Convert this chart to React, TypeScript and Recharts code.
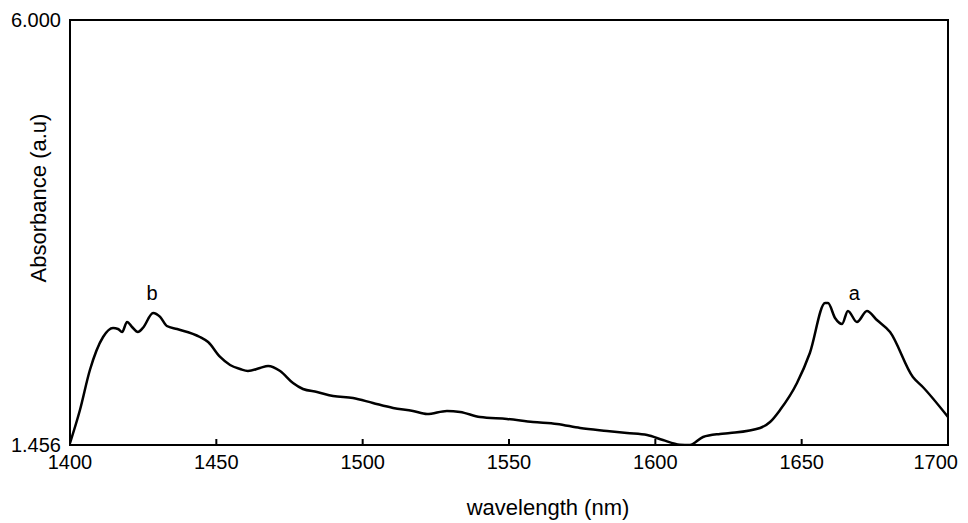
import { LineChart, Line, XAxis, YAxis, ReferenceDot, ReferenceArea } from 'recharts';

// wavelength (nm)
const wavelength = [
  1400.0, 1403.4, 1406.8, 1411.3, 1414.7, 1416.4, 1417.8, 1419.5, 1421.2, 1423.2,
  1424.9, 1428.4, 1430.8, 1433.1, 1436.6, 1444.4, 1447.2, 1451.3, 1454.7, 1458.1,
  1460.8, 1464.9, 1467.7, 1471.8, 1476.2, 1479.6, 1484.4, 1489.9, 1496.7, 1503.5,
  1510.4, 1517.2, 1522.0, 1528.8, 1533.3, 1540.1, 1549.3, 1558.2, 1566.4, 1574.3,
  1583.5, 1590.3, 1597.2, 1602.6, 1608.4, 1611.8, 1616.3, 1622.1, 1625.5, 1635.8,
  1639.2, 1642.6, 1648.4, 1652.8, 1658.0, 1659.0, 1661.4, 1663.8, 1665.8, 1668.9,
  1672.3, 1675.7, 1680.2, 1688.0, 1691.4, 1700.0,
];

const absorbance = [
  1.477, 1.83, 2.258, 2.611, 2.707, 2.696, 2.664, 2.771, 2.718, 2.664,
  2.707, 2.867, 2.825, 2.728, 2.696, 2.611, 2.557, 2.397, 2.311, 2.269,
  2.247, 2.279, 2.301, 2.247, 2.119, 2.055, 2.023, 1.98, 1.959, 1.905,
  1.852, 1.82, 1.787, 1.82, 1.809, 1.755, 1.734, 1.702, 1.681, 1.638,
  1.606, 1.584, 1.563, 1.509, 1.46, 1.456, 1.542, 1.574, 1.584, 1.638,
  1.702, 1.83, 2.119, 2.44, 2.974, 2.974, 2.814, 2.75, 2.889, 2.771,
  2.889, 2.792, 2.664, 2.183, 2.076, 1.755,
];

const xTicks = [1400, 1450, 1500, 1550, 1600, 1650, 1700];
const yTicks = [1.456, 6.0];

const peakLabels = [
  { x: 1428, y: 3.08, text: 'b' },
  { x: 1668, y: 3.08, text: 'a' },
];

const data = wavelength.map((w, i) => ({ w, a: absorbance[i] }));

const font = '"Liberation Sans", Arial, sans-serif';

// last label sits a bit inside the frame, like the original print
const XTick = (props: any) => {
  const { x, y, payload } = props;
  const last = payload.value === 1700;
  return (
    <text
      x={last ? x + 10 : x}
      y={y}
      dy="0.71em"
      textAnchor={last ? 'end' : 'middle'}
      fill="#000"
      fontSize={20}
      fontFamily={font}
    >
      {payload.value}
    </text>
  );
};

export default function App() {
  return (
    <div style={{ position: 'absolute', left: 0, top: 0, width: 968, height: 523, background: '#fff', fontFamily: font }}>
      <LineChart
        width={968}
        height={523}
        data={data}
        margin={{ top: 20, right: 20, left: 0, bottom: 0 }}
      >
        <XAxis
          dataKey="w"
          type="number"
          domain={[1400, 1700]}
          ticks={xTicks}
          allowDataOverflow
          stroke="#000"
          strokeWidth={2}
          tickSize={-6}
          tickMargin={16}
          tick={<XTick />}
          height={78}
        />
        <YAxis
          type="number"
          domain={[1.456, 6.0]}
          ticks={yTicks}
          allowDataOverflow
          stroke="#000"
          strokeWidth={2}
          tickLine={false}
          tickMargin={3}
          tickFormatter={(v: number) => v.toFixed(3)}
          tick={{ fill: '#000', fontSize: 20, fontFamily: font }}
          width={70}
        />
        {/* plot frame */}
        <ReferenceArea
          x1={1400}
          x2={1700}
          y1={1.456}
          y2={6.0}
          fill="none"
          stroke="#000"
          strokeWidth={2}
        />
        <Line
          type="monotone"
          dataKey="a"
          stroke="#000"
          strokeWidth={2.5}
          dot={false}
          isAnimationActive={false}
        />
        {peakLabels.map((p) => (
          <ReferenceDot
            key={p.text}
            x={p.x}
            y={p.y}
            r={0}
            stroke="none"
            fill="none"
            label={{ value: p.text, position: 'center', fill: '#000', fontSize: 20, fontFamily: font }}
          />
        ))}
      </LineChart>
      <div
        style={{
          position: 'absolute',
          left: 39,
          top: 198,
          transform: 'translate(-50%, -50%) rotate(-90deg)',
          fontSize: 22,
          whiteSpace: 'nowrap',
          color: '#000',
        }}
      >
        Absorbance (a.u)
      </div>
      <div
        style={{
          position: 'absolute',
          left: 548,
          top: 508,
          transform: 'translate(-50%, -50%)',
          fontSize: 22,
          whiteSpace: 'nowrap',
          color: '#000',
        }}
      >
        wavelength (nm)
      </div>
    </div>
  );
}
